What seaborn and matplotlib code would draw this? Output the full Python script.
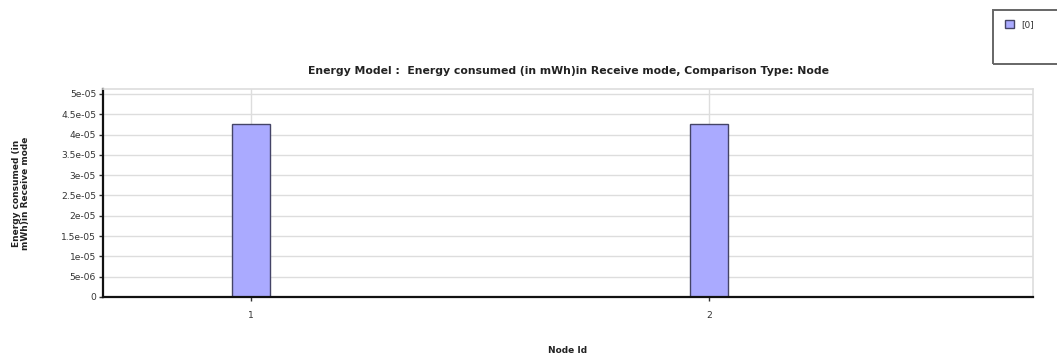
import matplotlib
matplotlib.use("Agg")
import matplotlib.pyplot as plt
import seaborn as sns
import pandas as pd
from matplotlib.ticker import FuncFormatter, MultipleLocator
from matplotlib.patches import Rectangle

node_ids = ["1", "2"]
energy = [4.27e-05, 4.27e-05]
series = ["[0]", "[0]"]
title = "Energy Model :  Energy consumed (in mWh)in Receive mode, Comparison Type: Node"
ylabel = "Energy consumed (in\nmWh)in Receive mode"
xlabel = "Node Id"

df = pd.DataFrame({"Node Id": node_ids, "Energy": energy, "Series": series})

sns.set_theme(style="white")
plt.rcParams["font.family"] = ["DejaVu Sans"]

fig = plt.figure(figsize=(10.57, 3.63), dpi=100)
ax = fig.add_axes([103/1057, 1-297/363, (1033-103)/1057, (297-89)/363])

sns.barplot(data=df, x="Node Id", y="Energy", hue="Series",
            palette=["#aaaaff"], edgecolor="#444466", linewidth=1.0,
            width=0.083, ax=ax, legend=True, saturation=1)

ax.set_xlim(-0.322, 1.707)
ax.set_ylim(0, 5.12e-05)
ax.yaxis.set_major_locator(MultipleLocator(5e-06))
ax.yaxis.set_major_formatter(FuncFormatter(lambda v, p: "0" if abs(v) < 1e-12 else f"{v:g}"))

ax.grid(True, color="#dddddd", linewidth=1.0)
ax.set_axisbelow(True)
for s in ["top", "right"]:
    ax.spines[s].set_color("#dddddd")
    ax.spines[s].set_linewidth(1.2)
for s in ["left", "bottom"]:
    ax.spines[s].set_color("#111111")
    ax.spines[s].set_linewidth(1.6)

ax.tick_params(axis="both", which="major", labelsize=6.6, colors="#333333",
               length=3, width=1, direction="out", left=True, bottom=True, pad=2)
for lbl in ax.get_yticklabels() + ax.get_xticklabels():
    lbl.set_color("#333333")
ax.tick_params(axis="x", pad=7)

ax.set_xlabel(xlabel, fontsize=6.5, fontweight="bold", color="#222222", labelpad=19)
ax.set_ylabel(ylabel, fontsize=6.5, fontweight="bold", color="#222222", labelpad=22,
              linespacing=1.0)
ax.set_title(title, fontsize=7.8, fontweight="bold", color="#222222", pad=11)

handles, labels = ax.get_legend_handles_labels()
ax.get_legend().remove()
fig.legend(handles, labels, loc="upper left",
           bbox_to_anchor=(999/1057, 1-14/363), frameon=False,
           fontsize=6.5, handlelength=1.0, handleheight=1.0, handletextpad=0.8,
           borderpad=0.2, labelcolor="#333333")
fig.patches.append(Rectangle((993/1057, 1-64/363), 80/1057, 54/363,
                             transform=fig.transFigure, fill=False,
                             edgecolor="#666666", linewidth=1.4))

fig.savefig("out.png", dpi=100)
